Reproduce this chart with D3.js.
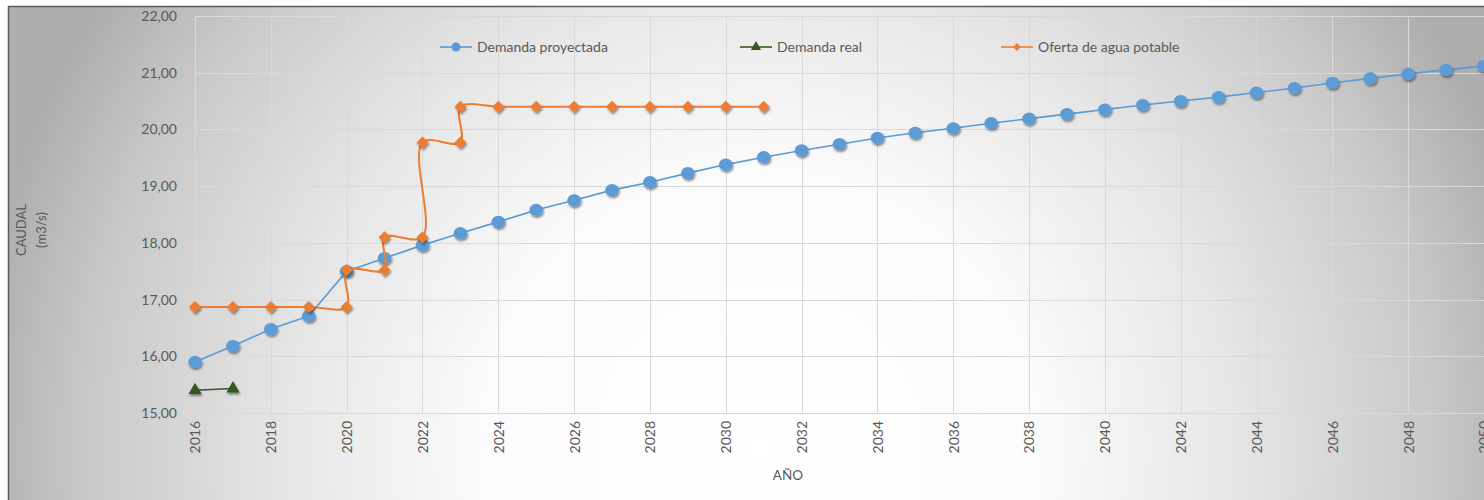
<!DOCTYPE html>
<html>
<head>
<meta charset="utf-8">
<script src="https://cdn.jsdelivr.net/npm/d3@7"></script>
<style>
  html, body { margin: 0; padding: 0; background: #ffffff; overflow: hidden; }
  svg { display: block; }
  text { font-family: "Lato", "Open Sans", sans-serif; fill: #595959; }
</style>
</head>
<body>
<svg id="chart" width="1484" height="500"></svg>
<script>
// Projected demand, one value per year 2016–2050
const years = d3.range(2016, 2051);
const demandaProyectada = [
  15.90, 16.18, 16.48, 16.71, 17.50, 17.73, 17.96, 18.17, 18.37, 18.58,
  18.75, 18.93, 19.07, 19.23, 19.38, 19.51, 19.63, 19.74, 19.85, 19.94,
  20.02, 20.11, 20.19, 20.27, 20.35, 20.43, 20.50, 20.57, 20.65, 20.73,
  20.82, 20.90, 20.98, 21.05, 21.12
];

// Measured demand
const realYears = [2016, 2017];
const demandaReal = [15.40, 15.43];

// Drinking water supply (steps: two values on the years when capacity grows)
const ofertaYears = [2016, 2017, 2018, 2019, 2020, 2020, 2021, 2021, 2022, 2022, 2023, 2023,
                     2024, 2025, 2026, 2027, 2028, 2029, 2030, 2031];
const ofertaAgua = [16.87, 16.87, 16.87, 16.87, 16.87, 17.52, 17.52, 18.10, 18.10, 19.77, 19.77, 20.40,
                    20.40, 20.40, 20.40, 20.40, 20.40, 20.40, 20.40, 20.40];

const yTicks = [15, 16, 17, 18, 19, 20, 21, 22];
const xTicks = d3.range(2016, 2051, 2);

const seriesNames = ["Demanda proyectada", "Demanda real", "Oferta de agua potable"];
const axisTitles = { y: ["CAUDAL", "(m3/s)"], x: "AÑO" };

const BLUE = "#5b9bd5", GREEN = "#375623", ORANGE = "#ed7d31";

const svg = d3.select("#chart");
const defs = svg.append("defs");

// Chart-area background: radial white-to-grey fill
const grad = defs.append("radialGradient")
  .attr("id", "bg").attr("gradientUnits", "userSpaceOnUse")
  .attr("cx", 760).attr("cy", 450).attr("r", 790);
[[0, "#ffffff"], [0.35, "#fbfbfb"], [0.6, "#e6e6e6"], [0.85, "#c9c9c9"], [1, "#aeaeae"]]
  .forEach(([o, c]) => grad.append("stop").attr("offset", o).attr("stop-color", c));

// Soft shadow under markers
const shadow = defs.append("filter").attr("id", "shadow")
  .attr("x", "-50%").attr("y", "-50%").attr("width", "200%").attr("height", "200%");
shadow.append("feDropShadow").attr("dx", 1).attr("dy", 2).attr("stdDeviation", 1.2)
  .attr("flood-color", "#000").attr("flood-opacity", 0.45);

svg.append("rect").attr("x", 8.5).attr("y", 6.5).attr("width", 1600).attr("height", 600)
  .attr("fill", "url(#bg)").attr("stroke", "#5a5a5a").attr("stroke-width", 1.5);

const x = d3.scaleLinear().domain([2016, 2050]).range([195, 1484]);
const y = d3.scaleLinear().domain([15, 22]).range([413, 16]);

const locale = d3.formatLocale({ decimal: ",", thousands: ".", grouping: [3], currency: ["", ""] });
const fmt = locale.format(".2f");

// Gridlines
const grid = svg.append("g").attr("stroke", "#d9d9d9").attr("stroke-width", 1);
grid.selectAll(".h").data(yTicks).join("line")
  .attr("x1", x(2016)).attr("x2", 1484)
  .attr("y1", d => Math.round(y(d)) + 0.5).attr("y2", d => Math.round(y(d)) + 0.5);
grid.selectAll(".v").data(xTicks).join("line")
  .attr("y1", y(22)).attr("y2", y(15))
  .attr("x1", d => Math.round(x(d)) + 0.5).attr("x2", d => Math.round(x(d)) + 0.5);

// Y axis
const yAxis = svg.append("g").attr("transform", `translate(${x(2016)},0)`)
  .call(d3.axisLeft(y).tickValues(yTicks).tickFormat(fmt).tickSize(0).tickPadding(18));
yAxis.select(".domain").remove();
yAxis.selectAll("text").style("font-size", "14px").style("fill", "#595959")
  .style("font-family", "Lato, 'Open Sans', sans-serif");

// X axis
const xAxis = svg.append("g").attr("transform", `translate(0,${y(15)})`)
  .call(d3.axisBottom(x).tickValues(xTicks).tickFormat(d3.format("d")).tickSize(0));
xAxis.select(".domain").remove();
xAxis.selectAll("text")
  .attr("transform", "rotate(-90)").attr("text-anchor", "end")
  .attr("x", -8).attr("y", 0).attr("dy", "0.35em")
  .style("font-size", "14px").style("fill", "#595959")
  .style("font-family", "Lato, 'Open Sans', sans-serif");

// Axis titles
const yt = svg.append("text").attr("transform", "translate(26,230) rotate(-90)")
  .attr("text-anchor", "middle").style("font-size", "13px");
yt.append("tspan").attr("x", 0).attr("y", 0).text(axisTitles.y[0]);
yt.append("tspan").attr("x", 0).attr("y", 20).text(axisTitles.y[1]);
svg.append("text").attr("x", 788).attr("y", 480).attr("text-anchor", "middle")
  .style("font-size", "13.5px").text(axisTitles.x);

// Diamond marker: a square turned 45°
const diamondPath = d3.symbol().type(d3.symbolSquare).size(72);

// Projected demand
const blueData = years.map((yr, i) => [yr, demandaProyectada[i]]);
svg.append("path").datum(blueData)
  .attr("fill", "none").attr("stroke", BLUE).attr("stroke-width", 1.6)
  .attr("d", d3.line().x(d => x(d[0])).y(d => y(d[1])));
svg.append("g").attr("filter", "url(#shadow)")
  .selectAll("ellipse").data(blueData).join("ellipse")
  .attr("cx", d => x(d[0])).attr("cy", d => y(d[1])).attr("rx", 6.8).attr("ry", 6.1)
  .attr("fill", BLUE);

// Measured demand
const greenData = realYears.map((yr, i) => [yr, demandaReal[i]]);
svg.append("path").datum(greenData)
  .attr("fill", "none").attr("stroke", GREEN).attr("stroke-width", 1.5)
  .attr("d", d3.line().x(d => x(d[0])).y(d => y(d[1])));
svg.append("g").attr("filter", "url(#shadow)")
  .selectAll("path").data(greenData).join("path")
  .attr("transform", d => `translate(${x(d[0])},${y(d[1])})`)
  .attr("d", d3.symbol().type(d3.symbolTriangle).size(75)).attr("fill", GREEN);

// Water supply, smoothed line
const orangeData = ofertaYears.map((yr, i) => [yr, ofertaAgua[i]]);
svg.append("path").datum(orangeData)
  .attr("fill", "none").attr("stroke", ORANGE).attr("stroke-width", 2)
  .attr("d", d3.line().curve(d3.curveCatmullRom.alpha(0.5)).x(d => x(d[0])).y(d => y(d[1])));
svg.append("g").attr("filter", "url(#shadow)")
  .selectAll("path").data(orangeData).join("path")
  .attr("transform", d => `translate(${x(d[0])},${y(d[1])}) rotate(45)`)
  .attr("d", diamondPath).attr("fill", ORANGE);

// Legend
const legendX = [440, 740, 1001];
const legendColors = [BLUE, GREEN, ORANGE];
const legend = svg.append("g");
seriesNames.forEach((name, i) => {
  const g = legend.append("g").attr("transform", `translate(${legendX[i]},47)`);
  g.append("line").attr("x1", 0).attr("x2", 32).attr("y1", 0).attr("y2", 0)
    .attr("stroke", legendColors[i]).attr("stroke-width", 1.6);
  if (i === 0) g.append("circle").attr("cx", 16).attr("r", 4.5).attr("fill", BLUE);
  if (i === 1) g.append("path").attr("transform", "translate(16,0)")
    .attr("d", d3.symbol().type(d3.symbolTriangle).size(45)).attr("fill", GREEN);
  if (i === 2) g.append("path").attr("transform", "translate(16,0) rotate(45)")
    .attr("d", d3.symbol().type(d3.symbolSquare).size(32)).attr("fill", ORANGE);
  g.append("text").attr("x", 37).attr("dy", "0.35em").style("font-size", "14px").text(name);
});
</script>
</body>
</html>
